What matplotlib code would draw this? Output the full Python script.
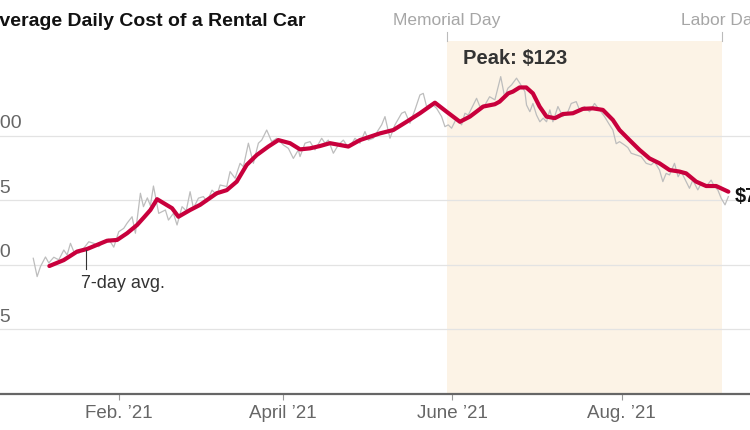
import pandas as pd
import matplotlib
matplotlib.use('Agg')
import matplotlib.pyplot as plt
import matplotlib.transforms as mtransforms

plt.rcParams['font.family'] = ['Liberation Sans', 'DejaVu Sans']

start = pd.Timestamp('2021-01-01')

# daily cost (gray line), x = days after Jan 1, 2021
gray_day = [0.0, 1.4, 2.6, 4.4, 5.6, 7.4, 9.2, 11.0, 12.2, 13.4, 14.6, 16.4, 18.2, 20.0,
            21.8, 23.6, 25.4, 27.2, 29.0, 30.8, 32.6, 33.8, 35.6, 36.8, 38.6, 39.7, 41.1,
            42.2, 43.3, 45.2, 47.6, 48.7, 50.5, 51.8, 53.6, 55.1, 56.5, 57.7, 59.5, 61.3,
            62.6, 64.4, 66.2, 67.3, 69.7, 70.9, 72.7, 74.5, 75.7, 77.5, 79.3, 81.1, 82.3,
            84.1, 85.9, 87.7, 90.1, 91.9, 93.7, 95.5, 96.1, 97.9, 99.7, 101.5, 103.9,
            105.1, 106.3, 108.1, 109.9, 111.7, 112.9, 114.1, 115.9, 117.7, 119.5, 120.7,
            122.5, 124.3, 125.5, 126.7, 128.5, 130.3, 132.7, 133.9, 135.7, 137.5, 139.3,
            140.5, 141.7, 143.5, 145.3, 147.1, 148.3, 149.5, 150.7, 152.5, 154.3, 155.5,
            156.7, 158.5, 159.7, 160.9, 162.7, 164.4, 166.3, 168.4, 169.8, 171.0, 172.3,
            174.1, 175.3, 177.1, 177.7, 178.9, 180.0, 181.3, 182.5, 183.7, 184.9, 186.1,
            187.2, 189.0, 190.8, 192.6, 193.8, 195.6, 196.8, 198.6, 200.4, 202.2, 204.0,
            205.8, 207.6, 208.8, 210.0, 211.2, 213.0, 214.2, 215.4, 217.3, 219.0, 220.8,
            222.6, 223.8, 225.6, 226.8, 228.0, 229.2, 231.0, 232.3, 233.4, 234.6, 236.4,
            237.6, 239.4, 240.6, 242.4, 244.2, 245.4, 246.6, 247.8, 249.2, 250.4]
gray_val = [52.6, 45.5, 49.4, 53.1, 50.8, 53.0, 52.0, 55.8, 53.9, 58.4, 55.2, 54.5, 56.5, 59.0,
            58.4, 57.1, 59.0, 60.0, 56.9, 62.9, 64.2, 66.2, 68.7, 62.3, 77.8, 72.6, 76.0,
            73.0, 80.6, 70.0, 71.3, 67.4, 70.0, 65.5, 72.6, 71.0, 78.4, 72.0, 75.9, 76.5,
            74.5, 79.0, 77.1, 81.0, 80.4, 86.2, 83.6, 89.4, 88.1, 97.2, 89.4, 97.2, 98.4,
            102.3, 97.8, 99.1, 96.5, 95.2, 91.3, 94.6, 92.0, 97.2, 97.8, 94.6, 99.1,
            97.2, 98.4, 93.3, 96.5, 98.4, 96.5, 95.9, 99.1, 97.2, 101.7, 98.4,
            99.1, 102.3, 104.3, 107.5, 99.1, 104.3, 108.8, 109.4, 104.9, 110.1, 115.9,
            116.5, 111.4, 112.6, 110.7, 107.5, 103.6, 104.3, 103.0, 106.9, 104.3, 108.8,
            108.1, 112.0, 114.6, 111.4, 112.0, 115.2, 114.0, 123.0, 115.2, 118.5, 119.8,
            122.4, 120.4, 117.2, 112.0, 109.4, 112.6, 108.1, 105.5, 106.9, 105.5, 110.1,
            105.5, 111.4, 107.5, 109.4, 112.6, 113.3, 110.1, 111.4, 109.4, 112.6, 110.1,
            107.5, 104.3, 102.3, 97.0, 97.8, 96.5, 95.5, 93.3, 92.6, 92.0, 89.4,
            88.8, 90.0, 86.8, 82.3, 85.5, 84.9, 89.4, 84.2, 86.2, 83.6, 79.7,
            82.9, 79.1, 81.6, 80.4, 82.9, 80.4, 79.1, 75.9, 73.3, 76.5]

# 7-day average (red line)
avg_day = [5.8, 11.0, 15.8, 19.4, 23.0, 26.6, 30.2, 33.8, 37.4, 40.0, 42.2, 44.6, 50.0, 52.3,
           56.5, 60.1, 66.1, 69.7, 73.3, 76.9, 80.5, 84.7, 88.3, 92.5, 96.1, 99.7, 103.3,
           106.9, 110.5, 113.5, 117.7, 121.3, 124.9, 129.7, 134.5, 139.3, 144.7, 148.9,
           153.7, 157.3, 162.1, 166.3, 168.0, 171.1, 172.8, 175.2, 177.6, 180.0, 182.4,
           184.9, 187.9, 190.8, 194.4, 198.0, 201.6, 205.2, 208.8, 211.2, 214.8, 218.4,
           222.0, 225.6, 229.2, 232.8, 235.2, 238.8, 242.4, 246.0, 250.4]
avg_val = [49.6, 51.9, 55.2, 56.2, 57.8, 59.4, 59.7, 62.3, 65.5, 68.6, 71.3, 75.5, 72.0, 68.7,
           71.3, 73.3, 77.8, 79.0, 82.3, 88.8, 92.6, 95.9, 98.4, 97.2, 94.8, 95.2, 96.1,
           97.2, 96.5, 95.9, 98.4, 99.7, 101.0, 102.3, 105.5, 108.8, 112.9, 109.4,
           105.5, 107.5, 111.4, 112.3, 113.3, 116.5, 117.2, 118.8, 118.8, 116.5, 111.4,
           107.5, 106.9, 108.5, 108.8, 110.5, 110.7, 110.1, 106.2, 102.3, 98.4, 94.6,
           91.3, 89.4, 86.8, 86.2, 85.5, 82.3, 80.6, 80.6, 78.4]

y_ticks = [25, 50, 75, 100]
y_labels = ['$25', '$50', '$75', '$100']
x_ticks = ['2021-02-01', '2021-04-01', '2021-06-01', '2021-08-01']
x_labels = ['Feb. \u201921', 'April \u201921', 'June \u201921', 'Aug. \u201921']
memorial = pd.Timestamp('2021-05-30')
labor = pd.Timestamp('2021-09-06')
peak_label = 'Peak: $123'
last_label = '$78'


def to_date(d):
    return start + pd.to_timedelta(d, unit='D')


gray_dates = [to_date(d) for d in gray_day]
avg_dates = [to_date(d) for d in avg_day]

fig = plt.figure(figsize=(7.5, 4.3), dpi=100)
ax = fig.add_axes([0, 36 / 430, 1, 353 / 430])

ax.axvspan(memorial, labor, color='#fcf3e6', lw=0, zorder=0)
for y in y_ticks:
    ax.axhline(y, color='#e3e3e3', lw=0.9, zorder=1)
ax.axhline(0, color='#666666', lw=1.6, zorder=5, clip_on=False)

ax.plot(gray_dates, gray_val, color='#bdbdbd', lw=0.9, zorder=3)
ax.plot(avg_dates, avg_val, color='#c8003c', lw=3, solid_capstyle='round', zorder=4)

ax.set_xlim(to_date(-11.98), to_date(258.2))
ax.set_ylim(0, 136.8)
for s in ax.spines.values():
    s.set_visible(False)
ax.set_yticks([])
ax.set_xticks([pd.Timestamp(t) for t in x_ticks])
ax.set_xticklabels(x_labels)
ax.tick_params(axis='x', length=4, width=0.8, color='#999999',
               labelcolor='#666666', labelsize=13.5, pad=4)

# y labels, left aligned above the grid lines (cut by the left edge as in the source)
ytrans = mtransforms.blended_transform_factory(ax.transAxes, ax.transData)
ytrans = mtransforms.offset_copy(ytrans, fig=fig, y=4, units='dots')
for y, lab in zip(y_ticks, y_labels):
    ax.text(-21.0 / 750, y, lab, transform=ytrans, ha='left', va='bottom',
            fontsize=14, color='#666666')

# holiday markers above the chart
htrans = mtransforms.blended_transform_factory(ax.transData, ax.transAxes)
for day, name in [(memorial, 'Memorial Day'), (labor, 'Labor Day')]:
    ax.plot([day, day], [1, 1 + 9 / 353], transform=htrans, color='#bbbbbb',
            lw=0.8, clip_on=False)
    ax.text(day, 1 + 20 / 353, name, transform=htrans, ha='center', va='center',
            fontsize=12.5, color='#a6a6a6')

ax.text(to_date(154.7), 130.2, peak_label, ha='left', va='center', fontsize=14.5,
        fontweight='bold', color='#333333', zorder=6)
ax.text(to_date(252.8), 76.4, last_label, ha='left', va='center', fontsize=14.5,
        fontweight='bold', color='#111111', zorder=6)

ax.plot([to_date(19.1), to_date(19.1)], [55.8, 48.4], color='#333333', lw=0.8, zorder=5)
ax.text(to_date(17.2), 43.0, '7-day avg.', ha='left', va='center', fontsize=13,
        color='#333333')

fig.text(305 / 750, 1 - 22 / 430, 'Average Daily Cost of a Rental Car', ha='right',
         va='center', fontsize=14, fontweight='bold', color='#111111')

fig.savefig('out.png', dpi=100)
